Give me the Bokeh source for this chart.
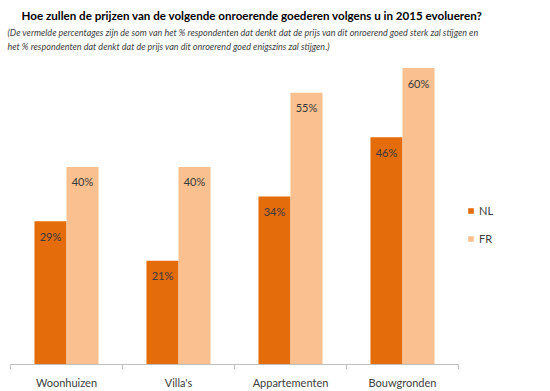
from bokeh.plotting import figure
from bokeh.models import ColumnDataSource, Range1d, FixedTicker, Label, LabelSet, Legend, LegendItem
from bokeh.embed import file_html
from bokeh.resources import INLINE
from bokeh.core.properties import value

categories = ["Woonhuizen", "Villa's", "Appartementen", "Bouwgronden"]
nl = [29, 21, 34, 46]
fr = [40, 40, 55, 60]
series = ["NL", "FR"]

title_text = "Hoe zullen de prijzen van de volgende onroerende goederen volgens u in 2015 evolueren?"
sub1 = ("(De vermelde percentages zijn de som van het % respondenten dat denkt dat de prijs "
        "van dit onroerend goed sterk zal stijgen en")
sub2 = "het % respondenten dat denkt dat de prijs van dit onroerend goed enigszins zal stijgen.)"

FW, FH = 550, 364          # frame size (page px)
bottom_panel = 27
cat_px = 112.0
px_per_pct = 4.94
x0_px = 10
bar_w = 0.286

idx = list(range(len(categories)))
src = ColumnDataSource(dict(
    x_nl=[i + 0.5 - bar_w / 2 for i in idx],
    x_fr=[i + 0.5 + bar_w / 2 for i in idx],
    nl=nl, fr=fr,
    nl_lbl=[f"{v}%" for v in nl],
    fr_lbl=[f"{v}%" for v in fr],
))

p = figure(frame_width=FW, frame_height=FH, output_backend="svg", toolbar_location=None,
           x_range=Range1d(-x0_px / cat_px, (FW - x0_px) / cat_px),
           y_range=Range1d(0, FH / px_per_pct),
           y_axis_location=None,
           min_border_left=0, min_border_right=0, min_border_top=0,
           min_border_bottom=bottom_panel)
p.grid.visible = False
p.outline_line_color = None

r1 = p.vbar(x="x_nl", top="nl", bottom=0, width=bar_w, source=src,
            fill_color="#E46C0A", line_color=None)
r2 = p.vbar(x="x_fr", top="fr", bottom=0, width=bar_w, source=src,
            fill_color="#FAC090", line_color=None)

for xf, yf, tf in [("x_nl", "nl", "nl_lbl"), ("x_fr", "fr", "fr_lbl")]:
    p.add_layout(LabelSet(x=xf, y=yf, text=tf, source=src, y_offset=-15,
                          text_align="center", text_baseline="middle",
                          text_font=value("Lato"), text_font_size=value("11px"),
                          text_color="#3A3A3A"))

ax = p.xaxis[0]
ax.bounds = (0, len(categories))
ax.ticker = FixedTicker(ticks=[i + 0.5 for i in idx],
                        minor_ticks=list(range(len(categories) + 1)))
ax.major_label_overrides = {i + 0.5: c for i, c in zip(idx, categories)}
ax.major_tick_line_color = None
ax.major_tick_out = 0
ax.major_tick_in = 0
ax.minor_tick_line_color = "#BFBFBF"
ax.minor_tick_out = 5
ax.minor_tick_in = 0
ax.axis_line_color = "#BFBFBF"
ax.major_label_text_font = "Lato"
ax.major_label_text_font_size = "11px"
ax.major_label_text_color = "#404040"
ax.major_label_standoff = 6

legend = Legend(items=[LegendItem(label=series[0], renderers=[r1]),
                       LegendItem(label=series[1], renderers=[r2])],
                location=(467, 119), orientation="vertical",
                glyph_width=7, glyph_height=7, label_height=7,
                label_standoff=5, spacing=15, padding=0, margin=0,
                border_line_color=None, background_fill_alpha=0,
                label_text_font="Lato", label_text_font_size="11px",
                label_text_color="#404040")
p.add_layout(legend)

p.add_layout(Label(x=21, y=FH - 15, x_units="screen", y_units="screen",
                   text=title_text, text_font="Lato", text_font_style="bold",
                   text_font_size="11.6px", text_color="#000000",
                   text_baseline="middle"))
p.add_layout(Label(x=7, y=FH - 32, x_units="screen", y_units="screen",
                   text=sub1, text_font="Lato", text_font_style="italic",
                   text_font_size="9px", text_color="#404040",
                   text_baseline="middle"))
p.add_layout(Label(x=7, y=FH - 46, x_units="screen", y_units="screen",
                   text=sub2, text_font="Lato", text_font_style="italic",
                   text_font_size="9px", text_color="#404040",
                   text_baseline="middle"))

open("out.html", "w").write(file_html(p, INLINE))
